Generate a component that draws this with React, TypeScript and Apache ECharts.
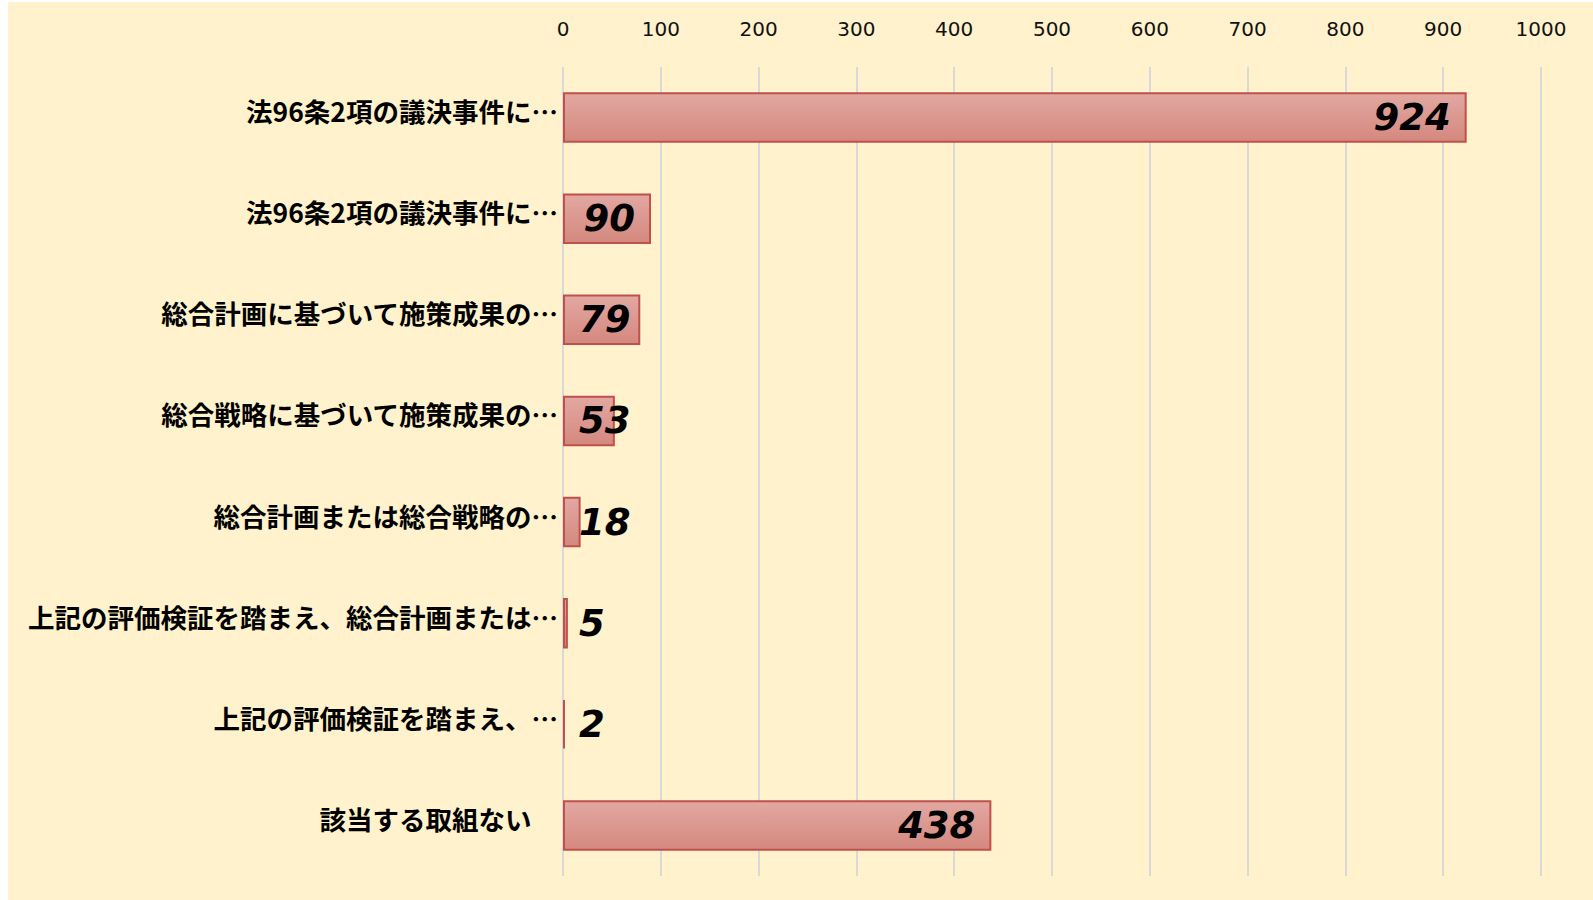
import React, { useEffect, useRef } from "react";
import * as echarts from "echarts";

const categories = [
  "法96条2項の議決事件に…",
  "法96条2項の議決事件に…",
  "総合計画に基づいて施策成果の…",
  "総合戦略に基づいて施策成果の…",
  "総合計画または総合戦略の…",
  "上記の評価検証を踏まえ、総合計画または…",
  "上記の評価検証を踏まえ、…",
  "該当する取組ない　",
];
const values = [924, 90, 79, 53, 18, 5, 2, 438];
const tickMin = 0;
const tickMax = 1000;
const tickStep = 100;

export default function App() {
  const ref = useRef<HTMLDivElement>(null);
  useEffect(() => {
    if (!ref.current) return;
    const chart = echarts.init(ref.current, undefined, { renderer: "svg" });
    const labelBase = {
      show: true,
      color: "#000",
      fontFamily: "DejaVu Sans",
      fontWeight: "bold" as const,
      fontStyle: "italic" as const,
      fontSize: 37,
      distance: 16,
    };
    chart.setOption({
      animation: false,
      backgroundColor: "#FFF2CC",
      grid: { left: 555, right: 52, top: 65, bottom: 24, containLabel: false },
      xAxis: {
        type: "value",
        position: "top",
        min: tickMin,
        max: tickMax,
        interval: tickStep,
        axisLine: { show: false },
        axisTick: { show: false },
        axisLabel: {
          color: "#111",
          fontFamily: "DejaVu Sans",
          fontSize: 20,
          margin: 28,
          formatter: (v: number) => String(v),
        },
        splitLine: { show: true, lineStyle: { color: "#D9D9D9", width: 2 } },
      },
      yAxis: {
        type: "category",
        inverse: true,
        data: categories,
        axisLine: { show: false },
        axisTick: { show: false },
        axisLabel: {
          color: "#000",
          fontFamily: "Noto Sans CJK JP",
          fontWeight: "bold",
          fontSize: 26.5,
          margin: 5,
          lineHeight: 14,
          verticalAlign: "bottom",
        },
      },
      series: [
        {
          type: "bar",
          barWidth: "50%",
          data: values.map((v) => ({
            value: v,
            label: { ...labelBase, position: v >= 85 ? "insideRight" : "insideLeft" },
          })),
          itemStyle: {
            color: new echarts.graphic.LinearGradient(0, 0, 0, 1, [
              { offset: 0, color: "#E2A8A2" },
              { offset: 1, color: "#D4887E" },
            ]),
            borderColor: "#C0504D",
            borderWidth: 2,
          },
        },
      ],
    });
    return () => chart.dispose();
  }, []);
  return (
    <div
      ref={ref}
      style={{ position: "absolute", left: 8, top: 2, width: 1585, height: 898, background: "#FFF2CC" }}
    />
  );
}
